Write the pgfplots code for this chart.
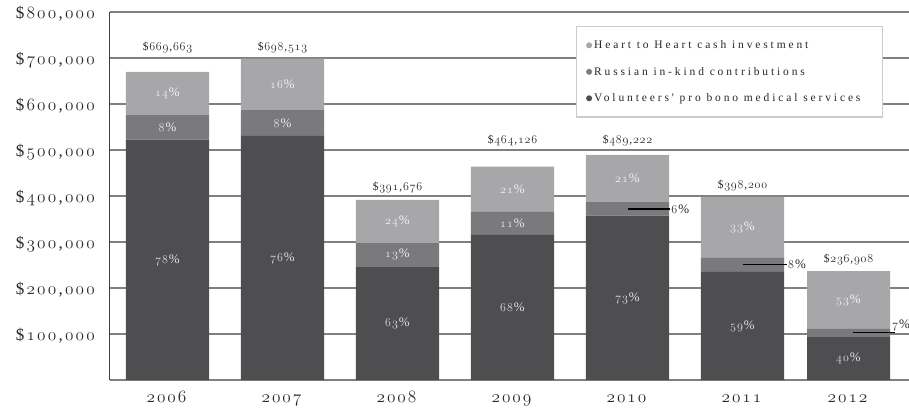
\documentclass[border=0pt]{standalone}
\usepackage{fontspec}
\setmainfont{Liberation Serif}
\newfontfamily\lsfont{Liberation Serif}[LetterSpace=25]
\usepackage{pgfplots}
\usepackage{pgfplotstable}
\pgfplotsset{compat=1.18}
\definecolor{cdark}{RGB}{78,78,80}
\definecolor{cmid}{RGB}{122,122,124}
\definecolor{clight}{RGB}{167,167,170}
\definecolor{cgrid}{RGB}{128,128,128}
\definecolor{ctext}{RGB}{40,40,40}
\makeatletter
\newdimen\osfkern
\def\osf#1{{\usefont{OML}{cmm}{m}{it}\osf@a#1\relax}}
\def\osf@a#1{\ifx#1\relax\else#1\kern\osfkern\expandafter\osf@a\fi}
\makeatother
\newcommand\money[2]{\$\kern\osfkern\osf{#1},\kern\osfkern\osf{#2}\kern-\osfkern}
\tikzset{
  pct/.style={font={\fontsize{13}{15}\selectfont\osfkern 1pt\relax}, inner sep=0pt},
  tot/.style={font={\fontsize{11.5}{13}\selectfont\osfkern 0.8pt\relax}, text=ctext, inner sep=0pt},
}
\pgfplotsset{base/.style={width=799pt, height=368pt, scale only axis,
  xmin=-0.5, xmax=6.448, ymin=0, ymax=800000}}
\pgfplotstableread{
x V R H
0 522337 53573 93753
1 530870 55881 111762
2 246756 50918 94002
3 315606 51054 97466
4 357132 29353 102737
5 234938 31856 131406
5.922 94763 16584 125561
}\datatable
\begin{document}
\begin{tikzpicture}
\path[use as bounding box] (-110pt,-29pt) rectangle (799pt,380pt);
\begin{axis}[
  base,
  ybar stacked, bar width=0.722,
  axis x line*=bottom, axis y line*=left,
  x axis line style={draw=cgrid, line width=1.5pt},
  y axis line style={draw=black!75, line width=1pt},
  scaled y ticks=false,
  ytick={100000,200000,300000,400000,500000,600000,700000,800000},
  yticklabels={\money{100}{000},\money{200}{000},\money{300}{000},\money{400}{000},\money{500}{000},\money{600}{000},\money{700}{000},\money{800}{000}},
  xtick={0,1,2,3,4,5,5.922},
  xticklabels={\osf{2006},\osf{2007},\osf{2008},\osf{2009},\osf{2010},\osf{2011},\osf{2012}},
  major tick length=0pt, tick style={draw=none},
  ymajorgrids, major grid style={draw=cgrid, line width=1.2pt},
  yticklabel style={font={\fontsize{17}{19}\selectfont\osfkern 2.2pt\relax}, text=ctext, anchor=east, inner sep=0pt, xshift=-15pt, yshift=-2pt},
  xticklabel style={font={\fontsize{18}{20}\selectfont\osfkern 2pt\relax}, text=ctext, anchor=base, inner sep=0pt, yshift=-22pt},
  legend image code/.code={\fill (0pt,0pt) circle (3pt);},
  reverse legend,
  legend cell align=left,
  legend style={at={(0.9675,0.962)}, anchor=north east, draw=black!20, line width=1.2pt,
    font={\fontsize{11.5}{13}\selectfont\lsfont}, text=ctext,
    row sep=13pt, inner xsep=10pt, inner ysep=12pt},
]
\addplot[fill=cdark, draw=none] table[x=x, y=V]{\datatable};
\addlegendentry{Volunteers' pro bono medical services\hspace*{10pt}}
\addplot[fill=cmid, draw=none] table[x=x, y=R]{\datatable};
\addlegendentry{Russian in-kind contributions}
\addplot[fill=clight, draw=none] table[x=x, y=H]{\datatable};
\addlegendentry{Heart to Heart cash investment}
\end{axis}
\begin{axis}[base, hide axis, clip=false]
% percentages
\node[pct, text=black!12] at (axis cs:0,261169) {\osf{78}\%};
\node[pct, text=black!8] at (axis cs:0,549124) {\osf{8}\%};
\node[pct, text=black!5] at (axis cs:0,622787) {\osf{14}\%};
\node[pct, text=black!12] at (axis cs:1,265435) {\osf{76}\%};
\node[pct, text=black!8] at (axis cs:1,558811) {\osf{8}\%};
\node[pct, text=black!5] at (axis cs:1,642632) {\osf{16}\%};
\node[pct, text=black!12] at (axis cs:2,123378) {\osf{63}\%};
\node[pct, text=black!8] at (axis cs:2,272215) {\osf{13}\%};
\node[pct, text=black!5] at (axis cs:2,344675) {\osf{24}\%};
\node[pct, text=black!12] at (axis cs:3,157803) {\osf{68}\%};
\node[pct, text=black!8] at (axis cs:3,341133) {\osf{11}\%};
\node[pct, text=black!5] at (axis cs:3,415393) {\osf{21}\%};
\node[pct, text=black!12] at (axis cs:4,178566) {\osf{73}\%};
\node[pct, text=black!5] at (axis cs:4,437854) {\osf{21}\%};
\node[pct, text=black!12] at (axis cs:5,117469) {\osf{59}\%};
\node[pct, text=black!5] at (axis cs:5,332497) {\osf{33}\%};
\node[pct, text=black!12] at (axis cs:5.922,47382) {\osf{40}\%};
\node[pct, text=black!5] at (axis cs:5.922,174128) {\osf{53}\%};
% callouts
\draw[black, line width=1.2pt] (axis cs:4.004,371800) -- (axis cs:4.37,371800);
\node[pct, text=ctext, anchor=west] at (axis cs:4.38,371800) {\osf{6}\%};
\draw[black, line width=1.2pt] (axis cs:5.004,250900) -- (axis cs:5.387,250900);
\node[pct, text=ctext, anchor=west] at (axis cs:5.395,250900) {\osf{8}\%};
\draw[black, line width=1.2pt] (axis cs:5.96,103000) -- (axis cs:6.33,103000);
\node[pct, text=ctext, anchor=south west] at (axis cs:6.30,106000) {\osf{7}\%};
% totals
\node[tot] at (axis cs:0,723900) {\money{669}{663}};
\node[tot] at (axis cs:1,723900) {\money{698}{513}};
\node[tot] at (axis cs:2,417400) {\money{391}{676}};
\node[tot] at (axis cs:3,521700) {\money{464}{126}};
\node[tot] at (axis cs:4,521700) {\money{489}{222}};
\node[tot] at (axis cs:5,423900) {\money{398}{200}};
\node[tot] at (axis cs:5.922,260900) {\money{236}{908}};
\end{axis}
\end{tikzpicture}
\end{document}
